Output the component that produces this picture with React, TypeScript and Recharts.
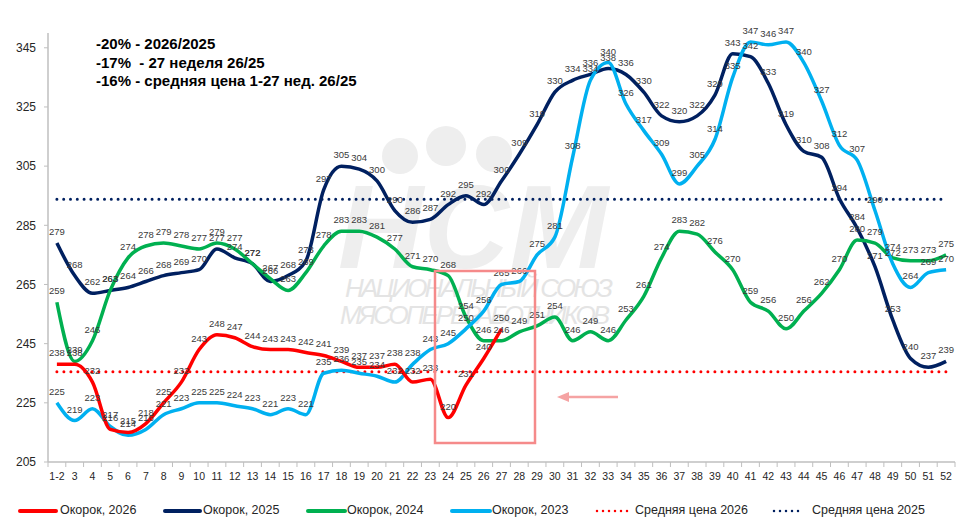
import React from "react"
import { LineChart, Line, XAxis, YAxis, LabelList } from "recharts"

// week categories ("1-2" is the merged first fortnight)
const weeks = [
  "1-2", "3", "4", "5", "6", "7", "8", "9", "10", "11", "12", "13", "14", "15", "16", "17", "18",
  "19", "20", "21", "22", "23", "24", "25", "26", "27", "28", "29", "30", "31", "32", "33", "34", "35",
  "36", "37", "38", "39", "40", "41", "42", "43", "44", "45", "46", "47", "48", "49", "50", "51", "52",
]

const ham2026 = [238, 238, 232, 216, 215, 218, 225, 232, 243, 248, 247, 244, 243, 243, 242, 241, 239, 237, 237, 238, 232, 233, 220, 231, 240, 250]
const ham2025 = [279, 268, 262, 263, 264, 266, 268, 269, 270, 277, 274, 272, 266, 268, 273, 297, 305, 304, 300, 290, 286, 287, 292, 295, 292, 300, 309, 319, 330, 334, 336, 338, 336, 330, 322, 320, 322, 329, 343, 342, 333, 319, 310, 308, 294, 284, 271, 253, 240, 237, 239]
const ham2024 = [259, 239, 246, 263, 274, 278, 279, 278, 277, 279, 277, 272, 267, 263, 269, 278, 283, 283, 281, 277, 271, 270, 268, 254, 246, 246, 249, 251, 254, 246, 249, 246, 253, 261, 274, 283, 282, 276, 270, 259, 256, 250, 256, 262, 270, 280, 279, 274, 273, 273, 275]
const ham2023 = [225, 219, 223, 217, 214, 216, 221, 223, 225, 225, 224, 223, 221, 223, 221, 235, 236, 235, 234, 232, 238, 243, 245, 250, 256, 265, 266, 275, 281, 308, 334, 340, 326, 317, 309, 299, 305, 314, 335, 347, 346, 347, 340, 327, 312, 307, 290, 272, 264, 269, 270]

const avg2026 = 235.5
const avg2025 = 293.8

const yTicks = [205, 225, 245, 265, 285, 305, 325, 345]

const notes = ["-20% - 2026/2025", "-17%  - 27 неделя 26/25", "-16% - средняя цена 1-27 нед. 26/25"]

const RED = "#ff0000"
const NAVY = "#002060"
const GREEN = "#00b050"
const BLUE = "#00b0f0"
const AXIS = "#bfbfbf"
const FONT = "'Liberation Sans', Arial, sans-serif"

const W = 974
const H = 490
const M = { top: 33, right: 19, left: 0, bottom: 0 }
const Y_W = 48
const STEP = (W - Y_W - M.right) / weeks.length

const rows = weeks.map((w, i) => ({
  week: w,
  r26: ham2026[i] ?? null,
  n25: ham2025[i],
  g24: ham2024[i],
  b23: ham2023[i],
  a26: avg2026,
  a25: avg2025,
}))

const labelStyle = { fontSize: 9.5, fill: "#3a3a3a", fontFamily: FONT }
const fmt = (v: unknown) => (v == null ? "" : String(v))

function WeekTick(props: any) {
  const { x, y, payload, index } = props
  const h = STEP / 2
  return (
    <g>
      <line x1={x - h} x2={x - h} y1={y} y2={y + 5} stroke={AXIS} strokeWidth={1} />
      {index === weeks.length - 1 && <line x1={x + h} x2={x + h} y1={y} y2={y + 5} stroke={AXIS} strokeWidth={1} />}
      <text x={x} y={y + 14} textAnchor="middle" dominantBaseline="central" fontSize={10.5} fill="#262626" fontFamily={FONT}>
        {payload.value}
      </text>
    </g>
  )
}

const legendItems = [
  { name: "Окорок, 2026", color: RED, dotted: false, x: 20, w: 36, tx: 60 },
  { name: "Окорок, 2025", color: NAVY, dotted: false, x: 165, w: 35, tx: 203 },
  { name: "Окорок, 2024", color: GREEN, dotted: false, x: 308, w: 37, tx: 347 },
  { name: "Окорок, 2023", color: BLUE, dotted: false, x: 452, w: 38, tx: 492 },
  { name: "Средняя цена 2026", color: RED, dotted: true, x: 597, w: 32, tx: 635 },
  { name: "Средняя цена 2025", color: NAVY, dotted: true, x: 774, w: 29, tx: 812 },
]

// series whose value labels are drawn in a top layer, above every line
const labelled = ["n25", "g24", "b23", "r26"]

function Watermark() {
  const c = "#eeeeee"
  return (
    <svg width={W} height={H} style={{ position: "absolute", left: 0, top: 0 }}>
      <circle cx={400} cy={156} r={18} fill={c} />
      <circle cx={446} cy={146} r={20} fill={c} />
      <circle cx={494} cy={154} r={18} fill={c} />
      <text x={338} y={268} fontSize={118} fontWeight="bold" fontStyle="italic" fill={c} fontFamily={FONT} textLength={270}>
        НСМ
      </text>
      <text x={345} y={297} fontSize={26} fontStyle="italic" fill="#e4e4e4" fontFamily={FONT} textLength={268}>
        НАЦИОНАЛЬНЫЙ СОЮЗ
      </text>
      <text x={340} y={324} fontSize={26} fontStyle="italic" fill="#e4e4e4" fontFamily={FONT} textLength={270}>
        МЯСОПЕРЕРАБОТЧИКОВ
      </text>
    </svg>
  )
}

export default function App() {
  return (
    <div style={{ position: "absolute", left: 0, top: 0, width: W, height: 524, background: "#fff", fontFamily: FONT, overflow: "hidden" }}>
      <Watermark />

      <div style={{ position: "absolute", left: 0, top: 0 }}>
        <LineChart width={W} height={H} data={rows} margin={M}>
          <XAxis
            dataKey="week"
            interval={0}
            padding={{ left: STEP / 2, right: STEP / 2 }}
            height={28}
            tickLine={false}
            tickSize={0}
            tickMargin={0}
            axisLine={{ stroke: AXIS, strokeWidth: 1.5 }}
            tick={<WeekTick />}
          />
          <YAxis
            width={Y_W}
            domain={[205, 350]}
            ticks={yTicks}
            allowDataOverflow
            tickSize={4}
            tickMargin={8}
            tickLine={{ stroke: AXIS }}
            axisLine={{ stroke: AXIS, strokeWidth: 1.5 }}
            tick={{ fontSize: 12, fill: "#262626", fontFamily: FONT }}
          />
          <Line dataKey="a26" stroke={RED} strokeWidth={3} strokeDasharray="0 7" strokeLinecap="round" dot={false} activeDot={false} isAnimationActive={false} />
          <Line dataKey="a25" stroke={NAVY} strokeWidth={3} strokeDasharray="0 6.8" strokeLinecap="round" dot={false} activeDot={false} isAnimationActive={false} />
          <Line type="monotone" dataKey="n25" stroke={NAVY} strokeWidth={3.5} dot={false} activeDot={false} isAnimationActive={false} />
          <Line type="monotone" dataKey="g24" stroke={GREEN} strokeWidth={3.5} dot={false} activeDot={false} isAnimationActive={false} />
          <Line type="monotone" dataKey="b23" stroke={BLUE} strokeWidth={3.5} dot={false} activeDot={false} isAnimationActive={false} />
          <Line type="monotone" dataKey="r26" stroke={RED} strokeWidth={3.5} dot={false} activeDot={false} isAnimationActive={false} />
          {labelled.map((k) => (
            <Line key={"lab-" + k} dataKey={k} stroke="none" dot={false} activeDot={false} legendType="none" isAnimationActive={false}>
              <LabelList dataKey={k} position="top" offset={8} style={labelStyle} formatter={fmt} />
            </Line>
          ))}
        </LineChart>
      </div>

      {/* highlight box and arrow */}
      <svg width={W} height={H} style={{ position: "absolute", left: 0, top: 0, pointerEvents: "none" }}>
        <rect x={435} y={271} width={100} height={172} fill="none" stroke="#f58a8a" strokeWidth={2.5} />
        <line x1={618} y1={397} x2={566} y2={397} stroke="#f5a3a3" strokeWidth={2.5} />
        <path d="M557 397 L569 392 L569 402 Z" fill="#f5a3a3" />
      </svg>

      <div style={{ position: "absolute", left: 96, top: 35, fontSize: 15, fontWeight: "bold", lineHeight: "18.5px", color: "#000", whiteSpace: "pre" }}>
        {notes.map((n) => (
          <div key={n}>{n}</div>
        ))}
      </div>

      {legendItems.map((it) => (
        <div key={it.name}>
          <svg width={it.w + 4} height={8} style={{ position: "absolute", left: it.x - 2, top: 507 }}>
            <line
              x1={2}
              x2={it.w + 2}
              y1={4}
              y2={4}
              stroke={it.color}
              strokeWidth={it.dotted ? 2.5 : 4}
              strokeLinecap="round"
              strokeDasharray={it.dotted ? "0 6" : undefined}
            />
          </svg>
          <div style={{ position: "absolute", left: it.tx, top: 502, fontSize: 12.5, color: "#262626", lineHeight: "17px", whiteSpace: "nowrap" }}>
            {it.name}
          </div>
        </div>
      ))}
    </div>
  )
}
